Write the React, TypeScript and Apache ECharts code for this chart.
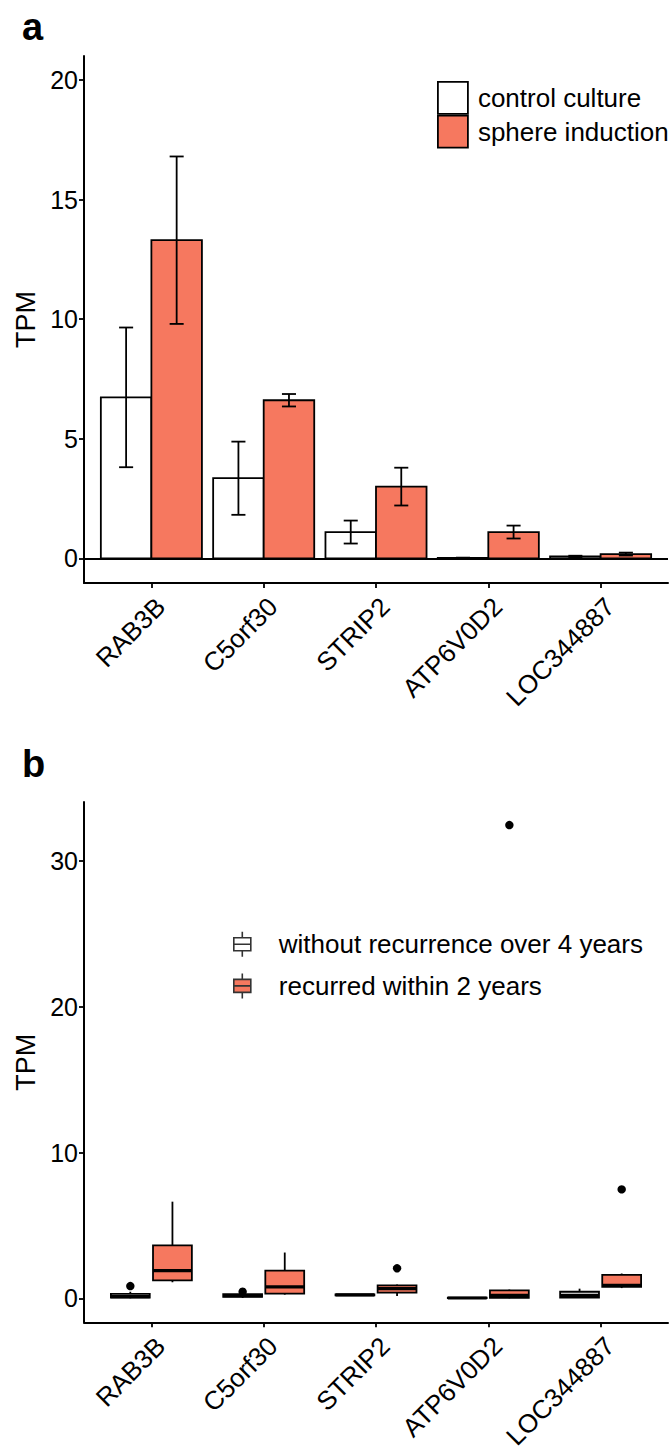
import React, { useEffect, useRef } from 'react';
import * as echarts from 'echarts';

// ---------- data ----------
const genes = ['RAB3B', 'C5orf30', 'STRIP2', 'ATP6V0D2', 'LOC344887'];

// panel a: mean TPM and error (half-length of error bar)
const controlMean = [6.73, 3.35, 1.1, 0.02, 0.08];
const controlErr = [2.92, 1.53, 0.48, 0.01, 0.03];
const sphereMean = [13.3, 6.61, 3.0, 1.1, 0.18];
const sphereErr = [3.5, 0.26, 0.79, 0.27, 0.06];

// panel b: [lower whisker, q1, median, q3, upper whisker]
const noRecurrenceBox = [
  [0.0, 0.05, 0.12, 0.3, 0.45],
  [0.02, 0.1, 0.18, 0.28, 0.35],
  [0.15, 0.2, 0.23, 0.27, 0.3],
  [0.0, 0.01, 0.02, 0.05, 0.08],
  [0.02, 0.05, 0.2, 0.45, 0.66],
];
const recurredBox = [
  [1.1, 1.23, 1.9, 3.63, 6.63],
  [0.25, 0.32, 0.78, 1.9, 3.14],
  [0.15, 0.39, 0.66, 0.89, 0.95],
  [0.0, 0.03, 0.2, 0.55, 0.6],
  [0.7, 0.78, 0.89, 1.61, 1.7],
];
const noRecurrenceOutlierGene = ['RAB3B', 'C5orf30'];
const noRecurrenceOutlierValue = [0.84, 0.45];
const recurredOutlierGene = ['STRIP2', 'ATP6V0D2', 'LOC344887'];
const recurredOutlierValue = [2.06, 32.47, 7.47];

const yTicksA = [0, 5, 10, 15, 20];
const yTicksB = [0, 10, 20, 30];

const seriesNamesA = ['control culture', 'sphere induction'];
const seriesNamesB = ['without recurrence over 4 years', 'recurred within 2 years'];

// ---------- styles ----------
const SALMON = '#F6785F';
const FONT = "'Liberation Sans', Arial, Helvetica, sans-serif";
const TXT = '#000';
const LW = 1.8;

const geneIdx = (g: string) => genes.indexOf(g) + 1;

function barSeries(name: string, means: number[], color: string, shift: number) {
  return {
    type: 'custom',
    name,
    xAxisIndex: 0,
    yAxisIndex: 0,
    itemStyle: { color, borderColor: '#000', borderWidth: LW },
    data: means.map((v, i) => [i + 1, v]),
    encode: { x: 0, y: 1 },
    renderItem: (params: any, api: any) => {
      const x = api.value(0) + shift;
      const y = api.value(1);
      const p0 = api.coord([x - 0.225, 0]);
      const p1 = api.coord([x + 0.225, y]);
      return {
        type: 'rect',
        shape: { x: p0[0], y: p1[1], width: p1[0] - p0[0], height: p0[1] - p1[1] },
        style: { fill: color, stroke: '#000', lineWidth: LW },
      };
    },
  };
}

function errSeries(means: number[], errs: number[], shift: number, withZeroLine: boolean) {
  const s: any = {
    type: 'custom',
    xAxisIndex: 0,
    yAxisIndex: 0,
    silent: true,
    z: 3,
    data: means.map((v, i) => [i + 1, v, errs[i]]),
    encode: { x: 0, y: 1 },
    renderItem: (params: any, api: any) => {
      const x = api.value(0) + shift;
      const m = api.value(1);
      const e = api.value(2);
      const top = api.coord([x, m + e]);
      const bot = api.coord([x, m - e]);
      const capL = api.coord([x - 0.0625, m])[0];
      const capR = api.coord([x + 0.0625, m])[0];
      const st = { stroke: '#000', lineWidth: LW };
      return {
        type: 'group',
        children: [
          { type: 'line', shape: { x1: top[0], y1: top[1], x2: bot[0], y2: bot[1] }, style: st },
          { type: 'line', shape: { x1: capL, y1: top[1], x2: capR, y2: top[1] }, style: st },
          { type: 'line', shape: { x1: capL, y1: bot[1], x2: capR, y2: bot[1] }, style: st },
        ],
      };
    },
  };
  if (withZeroLine) {
    s.markLine = {
      silent: true,
      symbol: 'none',
      label: { show: false },
      lineStyle: { color: '#000', width: LW, type: 'solid' },
      data: [{ yAxis: 0 }],
    };
  }
  return s;
}

function boxSeries(name: string, boxes: number[][], color: string, shift: number) {
  return {
    type: 'custom',
    name,
    xAxisIndex: 1,
    yAxisIndex: 1,
    itemStyle: { color, borderColor: '#000', borderWidth: LW },
    data: boxes.map((b, i) => [i + 1, ...b]),
    encode: { x: 0, y: [1, 2, 3, 4, 5] },
    renderItem: (params: any, api: any) => {
      const x = api.value(0) + shift;
      const lo = api.value(1);
      const q1 = api.value(2);
      const med = api.value(3);
      const q3 = api.value(4);
      const hi = api.value(5);
      const half = 0.173;
      const pLo = api.coord([x, lo]);
      const pHi = api.coord([x, hi]);
      const a = api.coord([x - half, q3]);
      const b = api.coord([x + half, q1]);
      const m = api.coord([x, med]);
      const st = { stroke: '#000', lineWidth: LW };
      return {
        type: 'group',
        children: [
          { type: 'line', shape: { x1: pHi[0], y1: pHi[1], x2: pHi[0], y2: a[1] }, style: st },
          { type: 'line', shape: { x1: pLo[0], y1: pLo[1], x2: pLo[0], y2: b[1] }, style: st },
          {
            type: 'rect',
            shape: { x: a[0], y: a[1], width: b[0] - a[0], height: Math.max(b[1] - a[1], 0.5) },
            style: { fill: color, stroke: '#000', lineWidth: LW },
          },
          { type: 'line', shape: { x1: a[0], y1: m[1], x2: b[0], y2: m[1] }, style: { stroke: '#000', lineWidth: 3.2 } },
        ],
      };
    },
  };
}

function outlierSeries(gs: string[], vals: number[], shift: number) {
  return {
    type: 'custom',
    xAxisIndex: 1,
    yAxisIndex: 1,
    silent: true,
    z: 4,
    data: gs.map((g, i) => [geneIdx(g), vals[i]]),
    encode: { x: 0, y: 1 },
    renderItem: (params: any, api: any) => {
      const p = api.coord([api.value(0) + shift, api.value(1)]);
      return { type: 'circle', shape: { cx: p[0], cy: p[1], r: 4.2 }, style: { fill: '#000' } };
    },
  };
}

function xAxisDef(gridIndex: number) {
  return {
    type: 'value',
    gridIndex,
    min: 0.4,
    max: 5.6,
    splitLine: { show: false },
    axisLine: { show: true, onZero: false, lineStyle: { color: '#000', width: 2 } },
    axisTick: { show: true, length: 5, customValues: [1, 2, 3, 4, 5], lineStyle: { color: '#000', width: 1.8 } },
    axisLabel: {
      customValues: [1, 2, 3, 4, 5],
      formatter: (v: number) => genes[Math.round(v) - 1] ?? '',
      rotate: 45,
      align: 'right',
      verticalAlign: 'top',
      margin: 10,
      fontSize: 26,
      fontFamily: FONT,
      color: TXT,
    },
  };
}

function yAxisDef(gridIndex: number, min: number, max: number, ticks: number[]) {
  return {
    type: 'value',
    gridIndex,
    min,
    max,
    name: 'TPM',
    nameLocation: 'middle',
    nameGap: 45,
    nameTextStyle: { fontSize: 27, fontFamily: FONT, color: TXT },
    splitLine: { show: false },
    axisLine: { show: true, onZero: false, lineStyle: { color: '#000', width: 2 } },
    axisTick: { show: true, length: 5, customValues: ticks, lineStyle: { color: '#000', width: 1.8 } },
    axisLabel: {
      customValues: ticks,
      margin: 6,
      fontSize: 25,
      fontFamily: FONT,
      color: TXT,
    },
  };
}

export default function App() {
  const ref = useRef<HTMLDivElement>(null);

  useEffect(() => {
    document.body.style.margin = '0';
    if (!ref.current) return;
    const chart = echarts.init(ref.current, undefined, { renderer: 'svg' });

    const boxIconPath = 'path://M8.5,0V6M0,6H17V19H0ZM0,12.5H17M8.5,19V25';

    chart.setOption({
      animation: false,
      backgroundColor: '#fff',
      grid: [
        { left: 84, top: 56, width: 584, height: 527 },
        { left: 84, top: 802, width: 584, height: 529 },
      ],
      xAxis: [xAxisDef(0), xAxisDef(1)],
      yAxis: [yAxisDef(0, -1.03, 21, yTicksA), yAxisDef(1, -1.65, 34.05, yTicksB)],
      legend: [
        {
          orient: 'vertical',
          left: 437,
          top: 81,
          padding: 0,
          itemGap: 0,
          itemWidth: 30,
          itemHeight: 32,
          selectedMode: false,
          textStyle: { fontSize: 26, fontFamily: FONT, color: TXT, lineHeight: 26, padding: [0, 0, 0, 5] },
          data: [
            { name: seriesNamesA[0], icon: 'rect', itemStyle: { color: '#fff', borderColor: '#000', borderWidth: LW } },
            { name: seriesNamesA[1], icon: 'rect', itemStyle: { color: SALMON, borderColor: '#000', borderWidth: LW } },
          ],
        },
        {
          orient: 'vertical',
          left: 233,
          top: 931,
          padding: 0,
          itemGap: 15,
          itemWidth: 17,
          itemHeight: 25,
          selectedMode: false,
          textStyle: { fontSize: 26, fontFamily: FONT, color: TXT, lineHeight: 25, padding: [0, 0, 0, 23] },
          data: [
            { name: seriesNamesB[0], icon: boxIconPath, itemStyle: { color: '#fff', borderColor: '#333', borderWidth: 1.6 } },
            { name: seriesNamesB[1], icon: boxIconPath, itemStyle: { color: SALMON, borderColor: '#333', borderWidth: 1.6 } },
          ],
        },
      ],
      graphic: [
        { type: 'text', left: 22, top: 8, style: { text: 'a', font: `bold 38px ${FONT}`, fill: '#000' } },
        { type: 'text', left: 22, top: 745, style: { text: 'b', font: `bold 38px ${FONT}`, fill: '#000' } },
      ],
      series: [
        barSeries(seriesNamesA[0], controlMean, '#fff', -0.225),
        barSeries(seriesNamesA[1], sphereMean, SALMON, 0.225),
        errSeries(controlMean, controlErr, -0.225, true),
        errSeries(sphereMean, sphereErr, 0.225, false),
        boxSeries(seriesNamesB[0], noRecurrenceBox, '#fff', -0.1875),
        boxSeries(seriesNamesB[1], recurredBox, SALMON, 0.1875),
        outlierSeries(noRecurrenceOutlierGene, noRecurrenceOutlierValue, -0.1875),
        outlierSeries(recurredOutlierGene, recurredOutlierValue, 0.1875),
      ],
    });

    return () => chart.dispose();
  }, []);

  return <div ref={ref} style={{ width: 669, height: 1452 }} />;
}
